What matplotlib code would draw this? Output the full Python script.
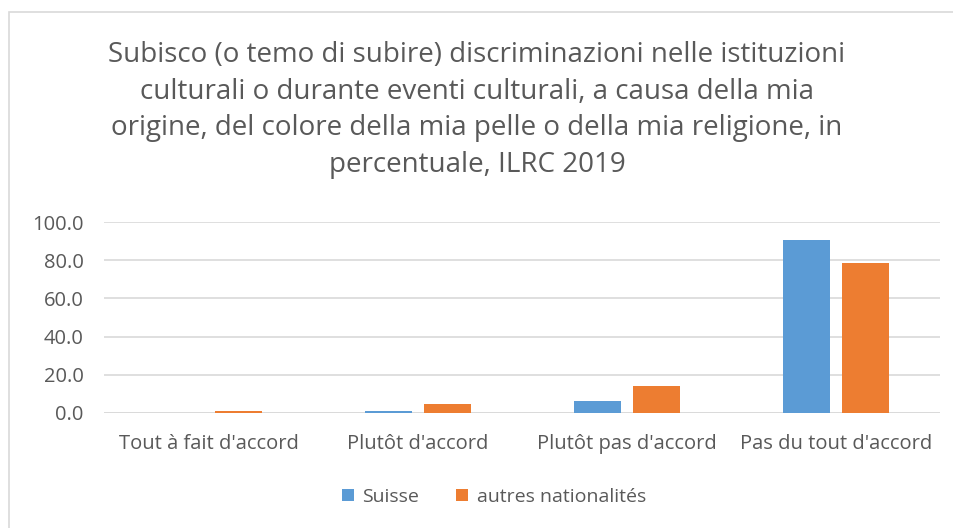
import matplotlib
matplotlib.use("Agg")
import matplotlib.pyplot as plt
import numpy as np
from matplotlib.patches import Rectangle

categories = ["Tout à fait d'accord", "Plutôt d'accord", "Plutôt pas d'accord", "Pas du tout d'accord"]
suisse = [0.2, 1.0, 6.3, 90.5]
autres = [1.0, 4.6, 13.9, 78.5]
series_names = ["Suisse", "autres nationalités"]
yticks = [0, 20, 40, 60, 80, 100]

C_BLUE = "#5b9bd5"
C_ORANGE = "#ed7d31"
INK = "#595959"

plt.rcParams.update({"font.family": ["Open Sans", "DejaVu Sans"]})

fig = plt.figure(figsize=(9.54, 5.28), dpi=100)
ax = fig.add_axes([104.5 / 954, 1 - 413 / 528, 836 / 954, 191 / 528])

# chart border
fig.add_artist(Rectangle((9 / 954, -0.01), 1.0, 1 - 12 / 528 + 0.01, transform=fig.transFigure,
                         fill=False, edgecolor="#d9d9d9", lw=1.2))

x = np.arange(len(categories))
w = 0.225
gap = 0.03
ax.bar(x - w / 2 - gap, suisse, width=w, color=C_BLUE, label=series_names[0], zorder=3)
ax.bar(x + w / 2 + gap, autres, width=w, color=C_ORANGE, label=series_names[1], zorder=3)

ax.set_xlim(-0.5, len(categories) - 0.5)
ax.set_ylim(0, 100)
ax.set_yticks(yticks)
ax.set_yticklabels([f"{v:.1f}" for v in yticks], fontsize=14.5, color=INK)
ax.set_xticks(x)
ax.set_xticklabels(categories, fontsize=14.5, color=INK)
ax.tick_params(axis="y", length=0, pad=15)
ax.tick_params(axis="x", length=0, pad=15)
ax.grid(axis="y", color="#d9d9d9", lw=1.2, zorder=0)
for s in ax.spines.values():
    s.set_visible(False)
ax.axhline(0, color="#d9d9d9", lw=1.2, zorder=2)

fig.text(0.5, 1 - 110 / 528,
         "Subisco (o temo di subire) discriminazioni nelle istituzioni\n"
         "culturali o durante eventi culturali, a causa della mia\n"
         "origine, del colore della mia pelle o della mia religione, in\n"
         "percentuale, ILRC 2019",
         ha="center", va="center", fontsize=20, color=INK, linespacing=1.4)

fig.legend(loc="center", bbox_to_anchor=(494 / 954, 1 - 497 / 528), ncol=2, frameon=False,
           fontsize=14, handlelength=0.62, handleheight=0.62, columnspacing=1.9,
           handletextpad=0.45, labelcolor=INK)

fig.savefig("out.png", dpi=100)
